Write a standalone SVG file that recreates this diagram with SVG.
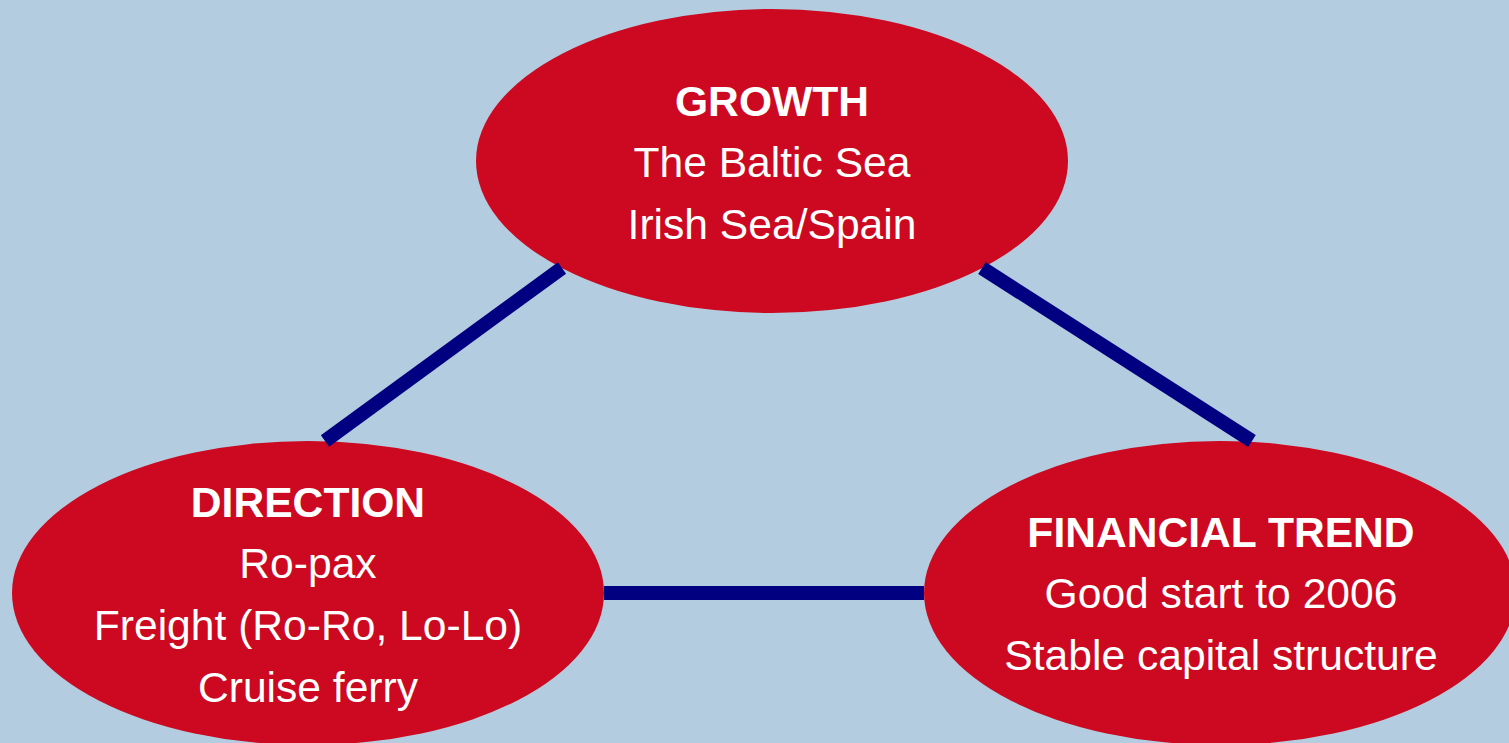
<svg xmlns="http://www.w3.org/2000/svg" width="1509" height="743" viewBox="0 0 1509 743">
<style>
.node{fill:#CC0920}
.t{font-family:"Liberation Sans",Arial,sans-serif;font-size:42.6px;fill:#FFFFFF;text-anchor:middle}
.b{font-weight:bold}
.c{stroke:#000080;stroke-width:14;stroke-linecap:butt;fill:none}
</style>
<rect x="0" y="0" width="1509" height="743" fill="#B3CCDF"/>
<g id="growth">
<ellipse class="node" cx="772" cy="161" rx="296" ry="152"/>
<text class="t b" x="772" y="116">GROWTH</text>
<text class="t" x="772" y="177">The Baltic Sea</text>
<text class="t" x="772" y="239">Irish Sea/Spain</text>
</g>
<g id="direction">
<ellipse class="node" cx="308" cy="593" rx="296" ry="152"/>
<text class="t b" x="308" y="517">DIRECTION</text>
<text class="t" x="308" y="578">Ro-pax</text>
<text class="t" x="308" y="640">Freight (Ro-Ro, Lo-Lo)</text>
<text class="t" x="308" y="702">Cruise ferry</text>
</g>
<g id="financial">
<ellipse class="node" cx="1220" cy="593" rx="296" ry="152"/>
<text class="t b" x="1221" y="547">FINANCIAL TREND</text>
<text class="t" x="1221" y="608">Good start to 2006</text>
<text class="t" x="1221" y="670">Stable capital structure</text>
</g>
<g id="connectors">
<line class="c" x1="562" y1="268" x2="325" y2="441"/>
<line class="c" x1="982" y1="268" x2="1252" y2="441"/>
<line class="c" x1="604" y1="593" x2="924" y2="593"/>
</g>
</svg>
